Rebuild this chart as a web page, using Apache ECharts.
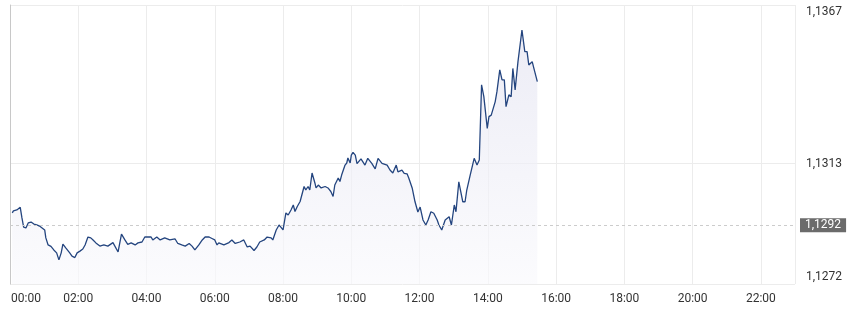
<!DOCTYPE html>
<html><head><meta charset="utf-8">
<script src="https://cdn.jsdelivr.net/npm/echarts@6/dist/echarts.min.js"></script>
<style>html,body{margin:0;padding:0;background:#fff}#c{width:851px;height:320px}</style>
</head><body><div id="c"></div>
<script>
const times = ['00:04','00:06','00:09','00:12','00:18','00:21','00:24','00:28','00:32','00:37',
'00:42','00:47','00:53','00:56','01:01','01:03','01:07','01:12','01:17','01:22',
'01:26','01:30','01:33','01:38','01:45','01:49','01:54','01:58','02:03','02:08',
'02:12','02:17','02:22','02:26','02:31','02:38','02:45','02:52','03:01','03:10',
'03:16','03:22','03:27','03:33','03:40','03:45','03:52','03:57','04:03','04:08',
'04:11','04:18','04:24','04:32','04:41','04:50','04:55','05:02','05:08','05:15',
'05:20','05:25','05:32','05:38','05:43','05:50','05:55','06:00','06:04','06:07',
'06:16','06:25','06:30','06:36','06:44','06:51','06:57','07:02','07:09','07:14',
'07:19','07:27','07:32','07:39','07:42','07:48','07:53','07:56','08:00','08:05',
'08:09','08:14','08:18','08:21','08:25','08:30','08:33','08:37','08:40','08:44',
'08:47','08:51','08:56','08:58','09:02','09:07','09:14','09:19','09:24','09:28',
'09:31','09:37','09:40','09:43','09:49','09:52','09:54','09:58','10:00','10:03',
'10:07','10:10','10:17','10:24','10:29','10:36','10:42','10:47','10:54','11:03',
'11:08','11:13','11:19','11:22','11:29','11:33','11:38','11:41','11:47','11:52',
'11:57','12:01','12:06','12:11','12:15','12:20','12:25','12:31','12:34','12:39',
'12:45','12:52','12:56','13:01','13:04','13:09','13:16','13:20','13:23','13:29',
'13:36','13:41','13:45','13:49','13:53','13:59','14:02','14:06','14:13','14:16',
'14:21','14:25','14:29','14:32','14:37','14:41','14:44','14:48','14:53','15:00',
'15:05','15:09','15:12','15:18','15:21','15:27'];

const prices = [1.12962,1.12969,1.12965,1.12972,1.12981,1.12945,1.12914,1.12911,1.12928,1.12931,
1.12924,1.12921,1.12916,1.12911,1.12904,1.12877,1.12853,1.12848,1.12836,1.12826,
1.12802,1.12826,1.12856,1.12843,1.12826,1.12815,1.12810,1.12826,1.12832,1.12839,
1.12853,1.12880,1.12877,1.12870,1.12860,1.12849,1.12853,1.12849,1.12861,1.12829,
1.12890,1.12870,1.12855,1.12860,1.12853,1.12860,1.12863,1.12880,1.12880,1.12880,
1.12870,1.12880,1.12870,1.12877,1.12870,1.12874,1.12858,1.12853,1.12849,1.12858,
1.12849,1.12836,1.12853,1.12870,1.12880,1.12880,1.12875,1.12870,1.12853,1.12860,
1.12853,1.12861,1.12870,1.12858,1.12863,1.12870,1.12846,1.12849,1.12834,1.12846,
1.12863,1.12870,1.12880,1.12877,1.12870,1.12904,1.12921,1.12916,1.12904,1.12962,
1.12955,1.12972,1.12989,1.12967,1.12984,1.13001,1.12996,1.13052,1.13040,1.13052,
1.13040,1.13098,1.13064,1.13047,1.13057,1.13047,1.13052,1.13047,1.13035,1.13018,
1.13057,1.13081,1.13069,1.13091,1.13125,1.13132,1.13149,1.13132,1.13159,1.13168,
1.13159,1.13130,1.13146,1.13125,1.13148,1.13131,1.13112,1.13148,1.13131,1.13125,
1.13108,1.13098,1.13125,1.13102,1.13108,1.13097,1.13095,1.13081,1.13047,1.13000,
1.12965,1.12982,1.12938,1.12921,1.12938,1.12966,1.12961,1.12938,1.12921,1.12904,
1.12938,1.12949,1.12921,1.12989,1.12966,1.13068,1.13000,1.13000,1.13040,1.13091,
1.13148,1.13125,1.13142,1.13398,1.13358,1.13250,1.13290,1.13295,1.13341,1.13375,
1.13449,1.13415,1.13415,1.13324,1.13364,1.13358,1.13454,1.13381,1.13477,1.13585,
1.13511,1.13511,1.13466,1.13477,1.13454,1.13409];

const xTickLabels = ['00:00','02:00','04:00','06:00','08:00','10:00','12:00','14:00','16:00','18:00','20:00','22:00'];
const yTickValues = [1.1272, 1.1313, 1.1367];
const lastPrice = 1.1292;
const yMin = 1.1272, yMax = 1.1367;

function toMin(t){ const p = t.split(':').map(Number); return p[0]*60 + p[1]; }
const n = Math.min(times.length, prices.length);
const data = [];
for (let i = 0; i < n; i++) data.push([toMin(times[i]), prices[i]]);
const fmt = v => v.toFixed(4).replace('.', ',');
const FONT = 'Roboto';

const chart = echarts.init(document.getElementById('c'), null, {renderer:'canvas'});
chart.setOption({
  animation: false,
  grid: {left: 10, right: 56, top: 5, bottom: 36},
  xAxis: {
    type: 'value', min: 0, max: 1380, interval: 120,
    axisLine: {show: false}, axisTick: {show: false},
    splitLine: {show: true, lineStyle: {color: '#ececec', width: 1}},
    axisLabel: {
      color: '#333', fontSize: 12, fontFamily: FONT, margin: 9,
      formatter: function (v) {
        const i = Math.round(v / 120);
        const s = xTickLabels[i];
        if (s === undefined) return '';
        return i === 0 ? '{f|' + s + '}' : s;
      },
      rich: {f: {padding: [0, 0, 0, 32], color: '#333', fontSize: 12, fontFamily: FONT}}
    }
  },
  yAxis: [{
    type: 'value', position: 'right', min: yMin, max: yMax,
    axisLine: {show: false},
    axisTick: {show: false, customValues: yTickValues},
    splitLine: {show: true, lineStyle: {color: '#ececec', width: 1}},
    axisLabel: {
      customValues: yTickValues, margin: 11, color: '#333', fontSize: 12, fontFamily: FONT,
      formatter: function (v) {
        const s = fmt(v);
        if (Math.abs(v - yMax) < 1e-7) return '{t|' + s + '}';
        if (Math.abs(v - yMin) < 1e-7) return '{b|' + s + '}';
        return s;
      },
      rich: {
        t: {padding: [14, 0, 0, 0], color: '#333', fontSize: 12, fontFamily: FONT},
        b: {padding: [0, 0, 14, 0], color: '#333', fontSize: 12, fontFamily: FONT}
      }
    }
  }, {
    type: 'value', position: 'left', min: yMin, max: yMax,
    axisLine: {show: true, lineStyle: {color: '#c8c8c8', width: 1}},
    axisLabel: {show: false}, axisTick: {show: false}, splitLine: {show: false}
  }],
  series: [{
    type: 'line', data: data, yAxisIndex: 0, showSymbol: false, symbol: 'none',
    lineStyle: {color: '#24457f', width: 1.3},
    areaStyle: {color: new echarts.graphic.LinearGradient(0, 0, 0, 1, [
      {offset: 0, color: '#e4e4f1'}, {offset: 1, color: '#f9f9fc'}])},
    markLine: {
      silent: true, symbol: 'none', animation: false, precision: 6,
      lineStyle: {color: '#cccccc', type: [3, 3], width: 1},
      label: {position: 'end', formatter: fmt(lastPrice), backgroundColor: '#6b6b6b', color: '#fff',
        padding: [1, 5, 1, 5], fontSize: 12, fontFamily: FONT, distance: 5},
      data: [{yAxis: lastPrice}]
    }
  }]
});
</script></body></html>
